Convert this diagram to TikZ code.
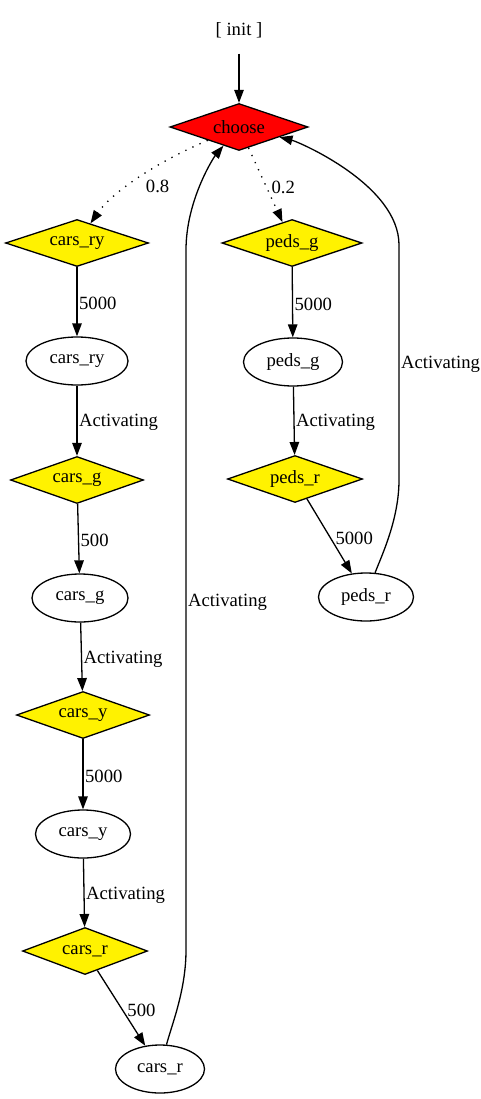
\documentclass[tikz,border=0pt]{standalone}
\usepackage{fontspec}
\setmainfont{Liberation Serif}
\usetikzlibrary{arrows.meta,shapes.geometric}

\begin{document}
\begin{tikzpicture}[x=1pt,y=-1pt,->,>={Triangle[length=13pt,width=9.5pt]},line width=1.3pt,
    every node/.style={font=\fontsize{18.67}{22}\selectfont},
    dia/.style={diamond,draw,aspect=3,inner sep=0pt,minimum height=47pt},
    pick/.style={dia,fill=red},
    light/.style={dia,fill=yellow},
    state/.style={ellipse,draw,inner sep=0pt,minimum height=48pt},
    lbl/.style={anchor=west,inner sep=1.5pt,yshift=-2pt},
    dots/.style={dash pattern=on 1.3pt off 6.5pt}]
  \useasboundingbox (0,0) rectangle (481,1099);
  \node[inner sep=0pt,minimum height=46pt,text depth=2pt] (init) at (239,30) {[ init ]};
  \node[pick,minimum width=138pt] (choose) at (239,127) {choose};
  \node[light,minimum width=143pt] (cryD) at (77,243) {cars\_ry};
  \node[state,minimum width=102pt] (cryE) at (77,361) {cars\_ry};
  \node[light,minimum width=133pt] (cgD) at (77,480) {cars\_g};
  \node[state,minimum width=96pt] (cgE) at (80,598) {cars\_g};
  \node[light,minimum width=133pt] (cyD) at (83,715) {cars\_y};
  \node[state,minimum width=95pt] (cyE) at (83,834) {cars\_y};
  \node[light,minimum width=125pt] (crD) at (85,951) {cars\_r};
  \node[state,minimum width=89pt] (crE) at (160,1069) {cars\_r};
  \node[light,minimum width=140pt] (pgD) at (292,243) {peds\_g};
  \node[state,minimum width=99pt] (pgE) at (293,362) {peds\_g};
  \node[light,minimum width=135pt] (prD) at (295,479) {peds\_r};
  \node[state,minimum width=95pt] (prE) at (366,597) {peds\_r};

  \draw (init) -- (choose);
  \draw[dots] (choose) .. controls (150,165) and (110,195) .. node[lbl,xshift=9pt,yshift=-4pt]{0.8} (cryD);
  \draw[dots] (choose) -- node[lbl,xshift=4pt]{0.2} (pgD);
  \draw (cryD) -- node[lbl]{5000} (cryE);
  \draw (cryE) -- node[lbl]{Activating} (cgD);
  \draw (cgD) -- node[lbl]{500} (cgE);
  \draw (cgE) -- node[lbl]{Activating} (cyD);
  \draw (cyD) -- node[lbl]{5000} (cyE);
  \draw (cyE) -- node[lbl]{Activating} (crD);
  \draw (crD) -- node[lbl,xshift=4pt]{500} (crE);
  \draw (crE) .. controls +(12,-45) and +(0,40) .. (186,950) -- node[lbl]{Activating} (186,250)
    .. controls +(0,-50) and +(-25,30) .. (choose);
  \draw (pgD) -- node[lbl]{5000} (pgE);
  \draw (pgE) -- node[lbl]{Activating} (prD);
  \draw (prD) -- node[lbl,xshift=4pt]{5000} (prE);
  \draw (prE) .. controls +(15,-40) and +(0,40) .. (399,480) -- node[lbl]{Activating} (399,245)
    .. controls +(0,-60) and +(60,15) .. (choose);
\end{tikzpicture}
\end{document}
